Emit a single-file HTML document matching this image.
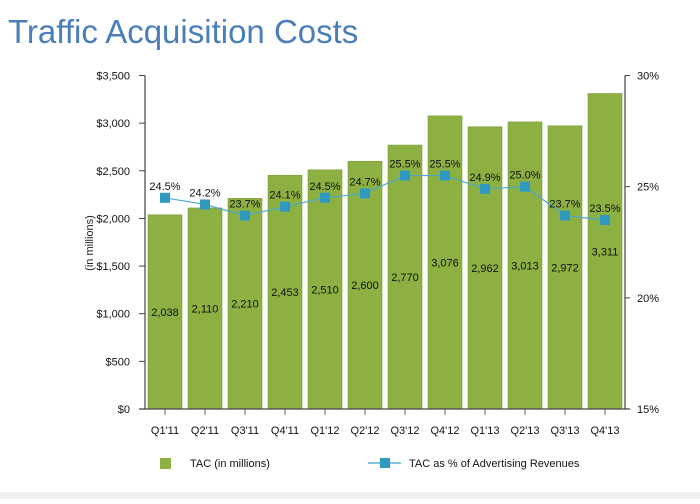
<!DOCTYPE html>
<html><head><meta charset="utf-8"><style>
body{margin:0;background:#fff;width:700px;height:499px;overflow:hidden;font-family:"Liberation Sans",Arial,sans-serif}
</style></head><body>
<svg width="700" height="499" xmlns="http://www.w3.org/2000/svg" font-family="Liberation Sans, Arial, sans-serif">
<text x="8" y="43" font-size="33" fill="#4a7ebb">Traffic Acquisition Costs</text>
<rect x="0" y="492" width="700" height="7" fill="#f0f0f0"/>
<g id="plot"></g>
<text transform="translate(93,243) rotate(-90)" text-anchor="middle" font-size="11" fill="#222">(in millions)</text>
<g>
<rect x="160" y="458" width="11" height="11" fill="#8db043"/>
<text x="190" y="467" font-size="11" fill="#111">TAC (in millions)</text>
<line x1="368" y1="463" x2="401" y2="463" stroke="#3aa0c8" stroke-width="1.2"/>
<rect x="380" y="458" width="10" height="10" fill="#2e9ac0"/>
<text x="409" y="467" font-size="11" fill="#111">TAC as % of Advertising Revenues</text>
</g>
</svg>
<script>
const categories=["Q1'11","Q2'11","Q3'11","Q4'11","Q1'12","Q2'12","Q3'12","Q4'12","Q1'13","Q2'13","Q3'13","Q4'13"];
const tacValues=[2038,2110,2210,2453,2510,2600,2770,3076,2962,3013,2972,3311];
const pctValues=[24.5,24.2,23.7,24.1,24.5,24.7,25.5,25.5,24.9,25.0,23.7,23.5];
const leftTicks=[0,500,1000,1500,2000,2500,3000,3500];
const rightTicks=[15,20,25,30];
const NS="http://www.w3.org/2000/svg";
const g=document.getElementById('plot');
const x0=145,x1=625,yTop=75.5,yBot=409;
const yL=v=>yBot-(v/3500)*(yBot-yTop);
const yR=v=>yBot-((v-15)/15)*(yBot-yTop);
const step=(x1-x0)/categories.length;
const xc=i=>x0+step*(i+0.5);
function mk(tag,attrs,text){const e=document.createElementNS(NS,tag);for(const k in attrs)e.setAttribute(k,attrs[k]);if(text!==undefined)e.textContent=text;g.appendChild(e);return e;}
const fmt=v=>v.toLocaleString('en-US');
// bars
tacValues.forEach((v,i)=>{
 const b=mk('rect',{x:xc(i)-17,y:yL(v),width:34,height:yBot-yL(v),fill:'#8db043',stroke:'#7a9d35','stroke-width':0.6});
 
 
 const t=mk('text',{x:xc(i),y:(yL(v)+yBot)/2+4,'text-anchor':'middle','font-size':11,fill:'#111'},fmt(v));
 
 
});
// axes
const la=mk('line',{x1:x0,y1:yTop,x2:x0,y2:yBot,stroke:'#444','stroke-width':1.2});


const ra=mk('line',{x1:x1,y1:yTop,x2:x1,y2:yBot,stroke:'#444','stroke-width':1.2});


const xa=mk('line',{x1:x0-6,y1:yBot,x2:x1+5,y2:yBot,stroke:'#444','stroke-width':1.2});


leftTicks.forEach(v=>{
 mk('line',{x1:x0-6,y1:yL(v),x2:x0,y2:yL(v),stroke:'#444'});
 const t=mk('text',{x:x0-15,y:yL(v)+4,'text-anchor':'end','font-size':11,fill:'#111'},'$'+fmt(v));
 
 
});
rightTicks.forEach(v=>{
 mk('line',{x1:x1,y1:yR(v),x2:x1+5,y2:yR(v),stroke:'#444'});
 const t=mk('text',{x:x1+12,y:yR(v)+4,'font-size':11,fill:'#111'},v+'%');
 
 
});
categories.forEach((c,i)=>{
 mk('line',{x1:xc(i),y1:yBot,x2:xc(i),y2:yBot+6,stroke:'#666'});
 const t=mk('text',{x:xc(i),y:yBot+25,'text-anchor':'middle','font-size':11,fill:'#111'},c);
 
 
});
// line
const pts=pctValues.map((v,i)=>xc(i)+','+yR(v)).join(' ');
const pl=mk('polyline',{points:pts,fill:'none',stroke:'#4aa8d0','stroke-width':1.2});


pctValues.forEach((v,i)=>{
 const m=mk('rect',{x:xc(i)-5,y:yR(v)-5,width:10,height:10,fill:'#2e9ac0'});
 
 
 const t=mk('text',{x:xc(i),y:yR(v)-8,'text-anchor':'middle','font-size':11,fill:'#111'},v.toFixed(1)+'%');
 
 
});
</script>
</body></html>
